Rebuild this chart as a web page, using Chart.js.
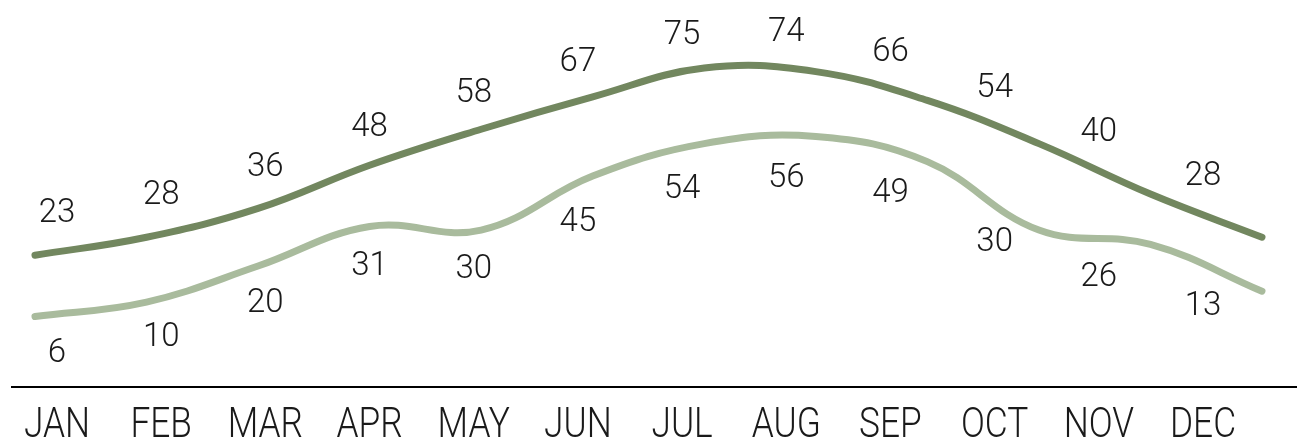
<!DOCTYPE html>
<html>
<head>
<meta charset="utf-8">
<script src="https://cdn.jsdelivr.net/npm/chart.js@4.4.1/dist/chart.umd.min.js"></script>
<style>
  html, body { margin: 0; padding: 0; background: #fff; }
  #wrap { width: 1297px; height: 444px; position: relative; }
</style>
</head>
<body>
<div id="wrap"><canvas id="tempChart"></canvas></div>
<script>
// Monthly highs and lows
const months = ["JAN", "FEB", "MAR", "APR", "MAY", "JUN", "JUL", "AUG", "SEP", "OCT", "NOV", "DEC"];
const highs = [23, 28, 36, 48, 58, 67, 75, 74, 66, 54, 40, 28];
const lows = [6, 10, 20, 31, 30, 45, 54, 56, 49, 30, 26, 13];

const HIGH_COLOR = "#72875f";
const LOW_COLOR = "#a9bb9d";
const TEXT_COLOR = "#1a1a1a";

// lines sit on their own (hidden) x scale, a bit wider than the month ticks
function toPoints(values) {
    return values.map((v, i) => ({ x: i, y: v }));
}

// value of a series at a fractional index (straight between months)
function valueAt(values, idx) {
    const i = Math.max(0, Math.min(values.length - 1, idx));
    const lo = Math.floor(i);
    const hi = Math.min(values.length - 1, lo + 1);
    return values[lo] + (values[hi] - values[lo]) * (i - lo);
}

// value labels: highs above their line, lows below
const valueLabels = {
    id: "valueLabels",
    afterDatasetsDraw(chart) {
        const { ctx, scales } = chart;
        ctx.save();
        ctx.font = "300 33px Roboto";
        ctx.fillStyle = TEXT_COLOR;
        ctx.textAlign = "center";
        ctx.textBaseline = "middle";
        chart.data.datasets.forEach(ds => {
            const values = ds.data.map(p => p.y);
            ds.data.forEach((p, i) => {
                const x = scales.x.getPixelForValue(i);
                // follow the line under the label, since the two x scales differ
                const lineVal = valueAt(values, scales.xl.getValueForPixel(x));
                const y = scales.y.getPixelForValue(lineVal) + ds.labelOffset;
                ctx.fillText(String(p.y), x, y);
            });
        });
        ctx.restore();
    }
};

// month names, squeezed horizontally for a condensed look
const monthLabels = {
    id: "monthLabels",
    afterDraw(chart) {
        const { ctx } = chart;
        const scale = chart.scales.x;
        const y = scale.top + 39;
        ctx.save();
        ctx.font = "300 42px Roboto";
        ctx.fillStyle = TEXT_COLOR;
        ctx.textAlign = "center";
        ctx.textBaseline = "middle";
        scale.ticks.forEach((t, i) => {
            const x = scale.getPixelForTick(i);
            ctx.save();
            ctx.translate(x, y);
            ctx.scale(0.84, 1);
            ctx.fillText(months[t.value], 0, 0);
            ctx.restore();
        });
        ctx.restore();
    }
};

const commonLine = {
    xAxisID: "xl",
    borderWidth: 7,
    borderCapStyle: "round",
    borderJoinStyle: "round",
    pointRadius: 0,
    pointHoverRadius: 0,
    tension: 0.4,
    fill: false,
    clip: false
};

new Chart(document.querySelector("#tempChart"), {
    type: "line",
    data: {
        datasets: [
            { ...commonLine, label: "High", data: toPoints(highs), borderColor: HIGH_COLOR, labelOffset: -38 },
            { ...commonLine, label: "Low", data: toPoints(lows), borderColor: LOW_COLOR, labelOffset: 40 }
        ]
    },
    options: {
        responsive: true,
        maintainAspectRatio: false,
        animation: false,
        events: [],
        layout: { padding: { left: 12, right: 0, top: 0, bottom: 0 } },
        plugins: {
            legend: { display: false },
            tooltip: { enabled: false }
        },
        scales: {
            x: {
                type: "linear",
                position: "bottom",
                min: -0.432,
                max: 11.902,
                afterBuildTicks(scale) {
                    scale.ticks = months.map((m, i) => ({ value: i }));
                },
                afterFit(scale) {
                    scale.height = 57;
                },
                grid: { display: false, drawTicks: false },
                border: { display: true, color: "#000", width: 2 },
                ticks: { display: false }
            },
            xl: {
                type: "linear",
                display: false,
                min: -0.206,
                max: 11.314
            },
            y: {
                display: false,
                min: -13.6,
                max: 93.9
            }
        }
    },
    plugins: [valueLabels, monthLabels]
});
</script>
</body>
</html>
